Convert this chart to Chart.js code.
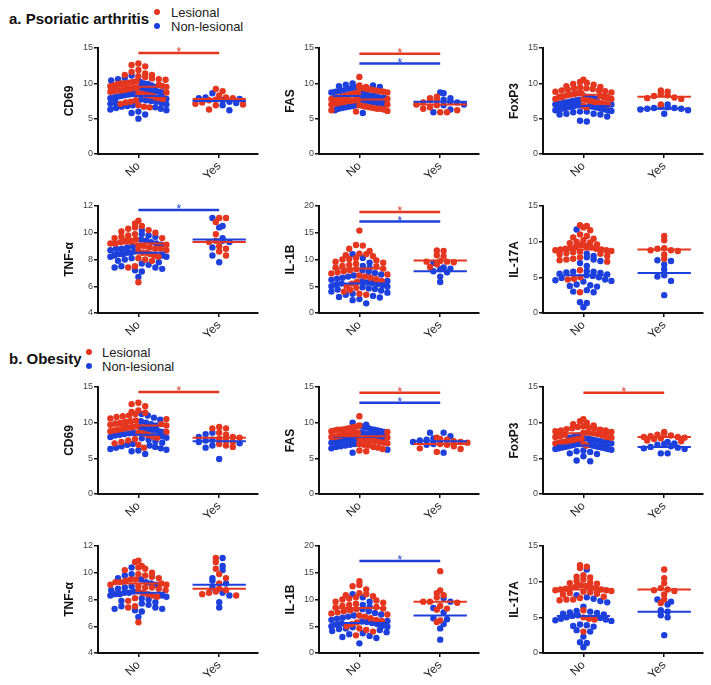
<!DOCTYPE html>
<html>
<head>
<meta charset="utf-8">
<script src="https://cdn.jsdelivr.net/npm/chart.js@4.4.1/dist/chart.umd.min.js"></script>
<style>
  html, body { margin:0; padding:0; background:#fff; }
  body { position:relative; width:711px; height:685px; overflow:hidden; font-family:'Liberation Sans', Arial, sans-serif; }
  .title { position:absolute; font-weight:bold; font-size:15px; line-height:15px; color:#111; white-space:nowrap; }
  .leg { position:absolute; font-size:13px; line-height:13px; color:#222; white-space:nowrap; }
  .dot { position:absolute; width:6px; height:6px; border-radius:50%; }
  canvas { position:absolute; }
</style>
</head>
<body>
<script>
// ---------------- DATA ----------------
const categories = ['No', 'Yes'];
const groupNames = ['Lesional', 'Non-lesional'];
const sectionTitles = ['a. Psoriatic arthritis', 'b. Obesity'];
const markers = ['CD69', 'FAS', 'FoxP3', 'TNF-\u03B1', 'IL-1B', 'IL-17A'];
const yAxisMin = [0, 0, 0, 4, 0, 0];
const yAxisMax = [15, 15, 15, 12, 20, 15];
const yAxisStep = [5, 5, 5, 2, 5, 5];

// a. Psoriatic arthritis
const psa_CD69_les_no = [12.8,12.6,12.4,11.9,11.6,11.4,11.2,11.2,11.0,10.9,10.7,10.6,10.5,10.3,10.2,10.1,10.0,10.0,9.9,9.8,9.7,9.6,9.6,9.5,9.4,9.3,9.2,9.1,9.0,9.0,8.9,8.8,8.7,8.6,8.5,8.4,8.3,8.2,8.0,7.9,7.8,7.6,7.4,7.3,7.1,6.9,6.7,6.6];
const psa_CD69_non_no = [11.1,10.8,10.6,10.4,10.2,10.0,9.9,9.7,9.5,9.4,9.2,9.1,9.0,8.9,8.8,8.7,8.6,8.5,8.4,8.3,8.2,8.1,8.0,7.9,7.8,7.7,7.6,7.5,7.4,7.3,7.2,7.1,7.0,6.9,6.8,6.7,6.6,6.5,6.4,6.3,6.2,6.0,5.8,5.6,5.0];
const psa_CD69_les_yes = [9.2,8.9,8.3,8.0,7.9,7.7,7.6,7.3,7.1,7.0,6.9,6.3];
const psa_CD69_non_yes = [8.6,8.0,7.9,7.8,7.6,7.4,7.2,6.9,6.2];
const psa_CD69_les_mean = [9.5, 7.8];
const psa_CD69_non_mean = [8.2, 7.5];
const psa_CD69_sig = [14.3, null];

const psa_FAS_les_no = [10.9,9.7,9.5,9.4,9.3,9.2,9.1,9.0,8.9,8.8,8.7,8.6,8.6,8.5,8.4,8.3,8.2,8.1,8.0,8.0,7.9,7.8,7.8,7.7,7.6,7.5,7.5,7.4,7.3,7.2,7.1,7.0,7.0,6.9,6.8,6.7,6.6,6.5,6.4,6.4,6.3,6.2,6.1,6.0];
const psa_FAS_non_no = [10.0,9.8,9.7,9.6,9.5,9.4,9.3,9.2,9.0,8.9,8.8,8.7,8.6,8.5,8.4,8.3,8.2,8.2,8.1,8.0,7.9,7.8,7.7,7.6,7.5,7.4,7.3,7.2,7.1,7.0,6.9,6.8,6.7,6.6,6.5,6.4,6.2,5.8];
const psa_FAS_les_yes = [8.1,7.9,7.7,7.6,7.3,7.0,6.9,6.6,6.4,6.2,5.9,5.9];
const psa_FAS_non_yes = [8.7,8.6,7.9,7.7,7.4,7.3,7.0,6.9,6.3,5.9];
const psa_FAS_les_mean = [7.7, 7.0];
const psa_FAS_non_mean = [8.2, 7.4];
const psa_FAS_sig = [14.2, 12.8];

const psa_FoxP3_les_no = [10.5,10.2,10.1,9.9,9.8,9.6,9.5,9.4,9.3,9.3,9.2,9.1,9.0,9.0,8.9,8.8,8.7,8.6,8.6,8.5,8.4,8.3,8.2,8.1,8.0,8.0,7.9,7.8,7.8,7.7,7.6,7.5,7.4,7.3,7.2,7.1,7.0,6.8,6.6];
const psa_FoxP3_non_no = [8.1,8.0,7.9,7.8,7.7,7.6,7.5,7.4,7.3,7.2,7.1,7.0,7.0,6.9,6.9,6.8,6.8,6.7,6.7,6.6,6.6,6.5,6.5,6.4,6.4,6.3,6.3,6.2,6.2,6.1,6.0,6.0,5.9,5.7,5.7,5.6,5.6,5.3,4.7,4.6];
const psa_FoxP3_les_yes = [9.0,8.8,8.5,8.3,8.2,8.0,7.9,7.8,7.0];
const psa_FoxP3_non_yes = [7.0,6.7,6.6,6.5,6.5,6.4,6.4,6.3,6.2,5.7];
const psa_FoxP3_les_mean = [8.4, 8.1];
const psa_FoxP3_non_mean = [6.8, 6.4];
const psa_FoxP3_sig = [null, null];

const psa_TNF_les_no = [10.9,10.7,10.5,10.4,10.3,10.2,10.1,10.0,9.9,9.8,9.7,9.6,9.6,9.5,9.4,9.4,9.3,9.2,9.2,9.1,9.0,9.0,8.9,8.8,8.8,8.7,8.6,8.5,8.5,8.4,8.3,8.2,8.1,8.0,7.9,7.5,7.4,6.3];
const psa_TNF_non_no = [10.2,9.9,9.8,9.7,9.5,9.4,9.3,9.2,9.1,9.0,8.9,8.8,8.8,8.7,8.6,8.5,8.5,8.4,8.4,8.3,8.3,8.2,8.2,8.1,8.0,7.9,7.8,7.7,7.6,7.5,7.4,7.4,7.3,7.2,7.1,6.7];
const psa_TNF_les_yes = [11.1,11.1,10.8,9.9,9.4,9.3,9.0,8.8,8.6,8.3];
const psa_TNF_non_yes = [11.1,10.5,10.4,9.6,9.4,9.3,8.9,8.3,7.8];
const psa_TNF_les_mean = [9.2, 9.3];
const psa_TNF_non_mean = [8.5, 9.5];
const psa_TNF_sig = [null, 11.7];

const psa_IL1B_les_no = [15.4,12.7,12.6,12.0,11.6,11.1,11.0,10.8,10.6,10.3,10.1,10.0,9.8,9.6,9.4,9.2,9.0,8.8,8.7,8.5,8.3,8.2,8.0,7.8,7.6,7.4,7.2,7.0,6.8,6.6,6.3,6.0,5.8,5.5,5.0,4.7,4.3,4.0,3.6,3.4];
const psa_IL1B_non_no = [11.0,10.3,9.4,8.8,8.4,8.0,7.7,7.5,7.2,7.0,6.8,6.6,6.4,6.2,6.0,5.9,5.7,5.6,5.5,5.4,5.3,5.2,5.0,4.9,4.8,4.6,4.5,4.4,4.2,4.0,3.8,3.6,3.4,3.2,3.0,2.9,2.6,2.4,1.8];
const psa_IL1B_les_yes = [11.7,11.6,10.8,10.6,9.7,9.6,9.6,9.5,9.1,8.6];
const psa_IL1B_non_yes = [9.4,8.5,8.3,8.2,7.8,7.6,6.8,5.8];
const psa_IL1B_les_mean = [8.3, 9.8];
const psa_IL1B_non_mean = [5.5, 7.8];
const psa_IL1B_sig = [18.9, 17.1];

const psa_IL17A_les_no = [12.3,12.2,12.0,11.6,11.0,10.8,10.6,10.4,10.2,10.0,9.9,9.8,9.6,9.5,9.4,9.3,9.2,9.1,9.0,9.0,8.9,8.9,8.8,8.8,8.7,8.6,8.5,8.4,8.3,8.2,8.0,7.8,7.6,7.5,7.4,7.2,6.0,5.0,4.8,4.7,2.9];
const psa_IL17A_non_no = [11.7,8.3,8.0,7.8,7.5,7.3,7.0,6.6,5.9,5.8,5.8,5.7,5.6,5.5,5.4,5.3,5.2,5.0,4.9,4.7,4.6,4.5,4.4,4.0,3.9,3.8,3.7,3.2,3.0,2.9,1.5,1.4,0.8];
const psa_IL17A_les_yes = [10.8,10.2,9.1,9.0,8.8,8.8,8.7,8.2,7.6];
const psa_IL17A_non_yes = [7.4,7.3,6.8,6.1,5.3,5.1,4.5,2.5];
const psa_IL17A_les_mean = [8.9, 8.9];
const psa_IL17A_non_mean = [5.3, 5.6];
const psa_IL17A_sig = [null, null];

// b. Obesity
const ob_CD69_les_no = [12.8,12.6,12.3,11.7,11.5,11.4,11.2,11.0,10.9,10.8,10.6,10.5,10.3,10.2,10.1,10.0,9.9,9.8,9.7,9.6,9.5,9.4,9.3,9.2,9.1,9.0,8.9,8.8,8.7,8.6,8.5,8.3,8.1,7.9,7.7,7.5,7.3,7.1,6.9,6.5];
const ob_CD69_non_no = [11.2,11.0,10.7,10.4,10.2,10.0,9.8,9.6,9.4,9.2,9.1,9.0,8.9,8.8,8.7,8.6,8.5,8.4,8.3,8.2,8.1,8.0,7.9,7.8,7.6,7.4,7.2,7.0,6.9,6.8,6.7,6.6,6.5,6.4,6.3,6.2,6.1,6.0,5.6];
const ob_CD69_les_yes = [9.4,9.2,9.2,8.6,8.3,8.0,7.9,7.7,7.5,7.3,7.0,6.8,6.6];
const ob_CD69_non_yes = [8.6,8.4,8.0,7.6,7.5,7.3,7.1,6.8,6.5,4.9];
const ob_CD69_les_mean = [9.6, 7.9];
const ob_CD69_non_mean = [8.3, 7.4];
const ob_CD69_sig = [14.3, null];

const ob_FAS_les_no = [10.9,9.6,9.5,9.4,9.3,9.2,9.1,9.0,9.0,8.9,8.8,8.7,8.6,8.6,8.5,8.4,8.3,8.2,8.1,8.0,8.0,7.9,7.8,7.7,7.6,7.5,7.4,7.3,7.2,7.1,7.0,6.9,6.8,6.6,6.5,6.3,6.1,6.0];
const ob_FAS_non_no = [10.0,9.7,9.5,9.4,9.3,9.1,9.0,8.9,8.8,8.7,8.6,8.5,8.4,8.3,8.2,8.1,8.0,7.9,7.8,7.7,7.6,7.5,7.4,7.3,7.2,7.0,6.9,6.8,6.7,6.6,6.4,6.2,5.8];
const ob_FAS_les_yes = [7.9,7.7,7.6,7.4,7.3,7.2,7.0,6.9,6.7,6.4,6.3,5.9];
const ob_FAS_non_yes = [8.6,8.6,8.1,7.8,7.6,7.5,7.3,7.0,6.9,5.8];
const ob_FAS_les_mean = [8.1, 7.0];
const ob_FAS_non_mean = [8.0, 7.4];
const ob_FAS_sig = [14.2, 12.8];

const ob_FoxP3_les_no = [10.5,10.2,10.0,9.8,9.6,9.5,9.4,9.3,9.2,9.2,9.1,9.0,8.9,8.9,8.8,8.7,8.6,8.6,8.5,8.4,8.3,8.2,8.1,8.0,8.0,7.9,7.8,7.7,7.6,7.5,7.4,7.3,7.2,7.1,7.0,6.8];
const ob_FoxP3_non_no = [8.2,8.0,7.9,7.8,7.7,7.6,7.5,7.4,7.3,7.2,7.1,7.0,7.0,6.9,6.9,6.8,6.8,6.7,6.7,6.6,6.6,6.5,6.5,6.4,6.4,6.3,6.3,6.2,6.1,6.0,5.9,5.7,5.6,5.3,4.7,4.6];
const ob_FoxP3_les_yes = [8.7,8.5,8.3,8.2,8.1,8.0,8.0,7.9,7.8,7.7,7.5,7.4];
const ob_FoxP3_non_yes = [7.3,7.1,7.0,6.9,6.7,6.6,6.5,6.4,6.3,5.7,5.7];
const ob_FoxP3_les_mean = [8.5, 8.0];
const ob_FoxP3_non_mean = [6.8, 6.6];
const ob_FoxP3_sig = [14.2, null];

const ob_TNF_les_no = [10.9,10.8,10.5,10.4,10.3,10.2,10.0,9.9,9.8,9.7,9.6,9.5,9.5,9.4,9.3,9.3,9.2,9.1,9.1,9.0,8.9,8.9,8.8,8.7,8.6,8.5,8.4,8.3,8.2,8.1,7.9,7.5,7.4,6.3];
const ob_TNF_non_no = [10.4,9.9,9.8,9.6,9.5,9.3,9.2,9.1,9.0,8.9,8.8,8.7,8.6,8.5,8.5,8.4,8.4,8.3,8.3,8.2,8.1,8.0,7.9,7.8,7.7,7.6,7.5,7.4,7.3,7.3,7.2,7.1,6.7];
const ob_TNF_les_yes = [11.1,10.8,10.3,9.9,9.6,9.2,8.8,8.7,8.6,8.5,8.4,8.3];
const ob_TNF_non_yes = [11.1,10.5,10.2,9.6,9.4,9.2,8.9,8.5,8.3,7.8,7.4];
const ob_TNF_les_mean = [9.2, 8.8];
const ob_TNF_non_mean = [8.5, 9.1];
const ob_TNF_sig = [null, null];

const ob_IL1B_les_no = [13.4,12.7,12.5,11.9,11.2,11.0,10.8,10.6,10.4,10.2,10.0,9.8,9.6,9.4,9.2,9.0,8.8,8.6,8.5,8.3,8.2,8.0,7.8,7.6,7.4,7.2,7.0,6.8,6.5,6.2,6.0,5.7,5.4,5.0,4.6,4.3,4.0,3.3];
const ob_IL1B_non_no = [11.0,10.4,9.6,9.0,8.6,8.2,7.8,7.5,7.2,7.0,6.8,6.6,6.4,6.2,6.0,5.9,5.8,5.6,5.5,5.4,5.3,5.1,5.0,4.9,4.8,4.6,4.5,4.3,4.1,3.9,3.7,3.5,3.2,3.0,2.8,1.8];
const ob_IL1B_les_yes = [15.3,11.7,11.2,10.8,10.4,9.6,9.6,9.4,8.8,8.3,8.1,6.1,5.8];
const ob_IL1B_non_yes = [10.3,9.6,8.4,7.6,6.5,6.3,5.4,4.6,2.5];
const ob_IL1B_les_mean = [8.4, 9.6];
const ob_IL1B_non_mean = [5.6, 7.0];
const ob_IL1B_sig = [null, 17.2];

const ob_IL17A_les_no = [12.3,12.1,11.9,10.9,10.7,10.6,10.3,10.1,9.9,9.8,9.7,9.5,9.4,9.3,9.2,9.1,9.0,9.0,8.9,8.9,8.8,8.8,8.7,8.6,8.5,8.4,8.3,8.2,7.9,7.7,7.5,7.5,7.4,6.0,5.0,4.8,4.7,3.0];
const ob_IL17A_non_no = [11.7,8.1,7.8,7.6,7.3,7.1,6.5,5.9,5.8,5.7,5.6,5.5,5.4,5.3,5.2,5.0,4.9,4.8,4.7,4.6,4.5,4.0,3.9,3.8,3.7,3.2,3.0,2.3,1.5,1.4,0.8];
const ob_IL17A_les_yes = [11.7,10.5,9.8,9.1,8.9,8.8,8.7,8.2,7.5,7.0];
const ob_IL17A_non_yes = [7.5,7.2,6.8,6.0,5.8,5.3,5.0,2.5];
const ob_IL17A_les_mean = [8.9, 8.9];
const ob_IL17A_non_mean = [5.2, 5.8];
const ob_IL17A_sig = [null, null];

// ---------------- LAYOUT / STYLE ----------------
const RED = '#e5361f';
const BLUE = '#1d40dd';
const COLORS = [RED, BLUE];
const FONT = "'Liberation Sans', Arial, sans-serif";
const colAxisX = [98, 319, 543];
const rowTop = [48, 206, 387, 546];
const rowBottom = [154, 313, 494, 653];
const LEFT_W = 60, PLOT_W = 160, RIGHT_PAD = 5, TOP_PAD = 15, X_AXIS_H = 45;
const DOT_R = 3.2, DOT_GAP = 6.8, ROW_H = 6, MAX_HALF = 28, MEAN_HALF = 0.33;

Chart.defaults.font.family = FONT;

const panels = [
  {row:0,col:0,m:0,les:[psa_CD69_les_no,psa_CD69_les_yes],non:[psa_CD69_non_no,psa_CD69_non_yes],lm:psa_CD69_les_mean,nm:psa_CD69_non_mean,sig:psa_CD69_sig},
  {row:0,col:1,m:1,les:[psa_FAS_les_no,psa_FAS_les_yes],non:[psa_FAS_non_no,psa_FAS_non_yes],lm:psa_FAS_les_mean,nm:psa_FAS_non_mean,sig:psa_FAS_sig},
  {row:0,col:2,m:2,les:[psa_FoxP3_les_no,psa_FoxP3_les_yes],non:[psa_FoxP3_non_no,psa_FoxP3_non_yes],lm:psa_FoxP3_les_mean,nm:psa_FoxP3_non_mean,sig:psa_FoxP3_sig},
  {row:1,col:0,m:3,les:[psa_TNF_les_no,psa_TNF_les_yes],non:[psa_TNF_non_no,psa_TNF_non_yes],lm:psa_TNF_les_mean,nm:psa_TNF_non_mean,sig:psa_TNF_sig},
  {row:1,col:1,m:4,les:[psa_IL1B_les_no,psa_IL1B_les_yes],non:[psa_IL1B_non_no,psa_IL1B_non_yes],lm:psa_IL1B_les_mean,nm:psa_IL1B_non_mean,sig:psa_IL1B_sig},
  {row:1,col:2,m:5,les:[psa_IL17A_les_no,psa_IL17A_les_yes],non:[psa_IL17A_non_no,psa_IL17A_non_yes],lm:psa_IL17A_les_mean,nm:psa_IL17A_non_mean,sig:psa_IL17A_sig},
  {row:2,col:0,m:0,les:[ob_CD69_les_no,ob_CD69_les_yes],non:[ob_CD69_non_no,ob_CD69_non_yes],lm:ob_CD69_les_mean,nm:ob_CD69_non_mean,sig:ob_CD69_sig},
  {row:2,col:1,m:1,les:[ob_FAS_les_no,ob_FAS_les_yes],non:[ob_FAS_non_no,ob_FAS_non_yes],lm:ob_FAS_les_mean,nm:ob_FAS_non_mean,sig:ob_FAS_sig},
  {row:2,col:2,m:2,les:[ob_FoxP3_les_no,ob_FoxP3_les_yes],non:[ob_FoxP3_non_no,ob_FoxP3_non_yes],lm:ob_FoxP3_les_mean,nm:ob_FoxP3_non_mean,sig:ob_FoxP3_sig},
  {row:3,col:0,m:3,les:[ob_TNF_les_no,ob_TNF_les_yes],non:[ob_TNF_non_no,ob_TNF_non_yes],lm:ob_TNF_les_mean,nm:ob_TNF_non_mean,sig:ob_TNF_sig},
  {row:3,col:1,m:4,les:[ob_IL1B_les_no,ob_IL1B_les_yes],non:[ob_IL1B_non_no,ob_IL1B_non_yes],lm:ob_IL1B_les_mean,nm:ob_IL1B_non_mean,sig:ob_IL1B_sig},
  {row:3,col:2,m:5,les:[ob_IL17A_les_no,ob_IL17A_les_yes],non:[ob_IL17A_non_no,ob_IL17A_non_yes],lm:ob_IL17A_les_mean,nm:ob_IL17A_non_mean,sig:ob_IL17A_sig}
];

// ---------------- HEADERS & LEGENDS ----------------
function addText(cls, txt, left, top) {
  const d = document.createElement('div'); d.className = cls; d.textContent = txt;
  d.style.left = left + 'px'; d.style.top = top + 'px'; document.body.appendChild(d);
}
function addDot(color, cx, cy) {
  const d = document.createElement('div'); d.className = 'dot'; d.style.background = color;
  d.style.left = (cx - 3) + 'px'; d.style.top = (cy - 3) + 'px'; document.body.appendChild(d);
}
const headerSpec = [
  {tx: 9, ty: 11, dotX: 157, legX: 171, y1: 12, y2: 26},
  {tx: 9, ty: 351, dotX: 89, legX: 102, y1: 352, y2: 366}
];
headerSpec.forEach((h, i) => {
  addText('title', sectionTitles[i], h.tx, h.ty);
  addDot(RED, h.dotX, h.y1); addDot(BLUE, h.dotX, h.y2);
  addText('leg', groupNames[0], h.legX, h.y1 - 6.5);
  addText('leg', groupNames[1], h.legX, h.y2 - 6.5);
});

// ---------------- PLUGINS ----------------
const starPlugin = {
  id: 'sigStars',
  afterDatasetsDraw(chart) {
    const ctx = chart.ctx;
    chart.data.datasets.forEach((d, i) => {
      if (!d.sigStar) return;
      const meta = chart.getDatasetMeta(i);
      const a = meta.data[0], b = meta.data[1];
      ctx.save();
      ctx.fillStyle = d.borderColor;
      ctx.font = '12px ' + FONT;
      ctx.textAlign = 'center';
      ctx.textBaseline = 'alphabetic';
      ctx.fillText('*', (a.x + b.x) / 2, a.y + 3);
      ctx.restore();
    });
  }
};

// column-scatter layout: both series of a column share rows; colours alternate, spread from centre out
function columnScatter(chart) {
  const xs = chart.scales.x, ys = chart.scales.y;
  [1, 2].forEach(cat => {
    const cx = xs.getPixelForValue(cat);
    const rows = new Map();
    chart.data.datasets.forEach((ds, di) => {
      if (ds.swarmCat !== cat) return;
      ds.data.forEach(p => {
        const b = Math.round((ys.getPixelForValue(p.y) - ys.top) / ROW_H);
        if (!rows.has(b)) rows.set(b, [[], []]);
        rows.get(b)[ds.series].push(p);
      });
    });
    rows.forEach(([reds, blues]) => {
      const order = [];
      const nMax = Math.max(reds.length, blues.length);
      for (let i = 0; i < nMax; i++) {
        if (i < reds.length) order.push(reds[i]);
        if (i < blues.length) order.push(blues[i]);
      }
      const n = order.length;
      const s = n > 1 ? Math.min(DOT_GAP, 2 * MAX_HALF / (n - 1)) : 0;
      const slots = [];
      for (let i = 0; i < n; i++) slots.push((i - (n - 1) / 2) * s);
      slots.sort((u, v) => Math.abs(u) - Math.abs(v) || u - v);
      order.forEach((p, i) => { p.x = xs.getValueForPixel(cx + slots[i]); });
    });
  });
}

// ---------------- CHARTS ----------------
panels.forEach(p => {
  const plotH = rowBottom[p.row] - rowTop[p.row];
  const W = LEFT_W + PLOT_W + RIGHT_PAD, H = TOP_PAD + plotH + X_AXIS_H;
  const cv = document.createElement('canvas');
  cv.width = W; cv.height = H;
  cv.style.left = (colAxisX[p.col] - LEFT_W) + 'px';
  cv.style.top = (rowTop[p.row] - TOP_PAD) + 'px';
  cv.style.width = W + 'px'; cv.style.height = H + 'px';
  document.body.appendChild(cv);

  const datasets = [];
  p.sig.forEach((v, i) => {
    if (v === null) return;
    datasets.push({type: 'line', data: [{x: 1, y: v}, {x: 2, y: v}], borderColor: COLORS[i], borderWidth: 2.5,
      pointRadius: 0, clip: false, sigStar: true});
  });
  [p.lm, p.nm].forEach((means, i) => means.forEach((v, c) => {
    datasets.push({type: 'line', data: [{x: c + 1 - MEAN_HALF, y: v}, {x: c + 1 + MEAN_HALF, y: v}],
      borderColor: COLORS[i], borderWidth: 2, pointRadius: 0, clip: false});
  }));
  [p.les, p.non].forEach((groups, i) => groups.forEach((vals, c) => {
    datasets.push({type: 'scatter', data: vals.map(v => ({x: c + 1, y: v})), backgroundColor: COLORS[i],
      borderWidth: 0, pointRadius: DOT_R, pointHoverRadius: DOT_R, clip: false, swarmCat: c + 1, series: i});
  }));

  const chart = new Chart(cv, {
    type: 'scatter',
    data: {datasets},
    plugins: [starPlugin],
    options: {
      responsive: false, animation: false, events: [],
      layout: {padding: {top: TOP_PAD, right: RIGHT_PAD, left: 0, bottom: 0}},
      plugins: {legend: {display: false}, tooltip: {enabled: false}},
      scales: {
        x: {
          type: 'linear', min: 0.5, max: 2.48,
          afterBuildTicks: s => { s.ticks = [{value: 1}, {value: 2}]; },
          afterFit: s => { s.height = X_AXIS_H; },
          ticks: {callback: v => categories[v - 1], minRotation: 45, maxRotation: 45, autoSkip: false,
            font: {size: 12}, color: '#222', padding: 1},
          grid: {drawOnChartArea: false, drawTicks: true, tickLength: 4, color: '#111', lineWidth: 1.5},
          border: {color: '#111', width: 2}
        },
        y: {
          min: yAxisMin[p.m], max: yAxisMax[p.m],
          afterFit: s => { s.width = LEFT_W; },
          ticks: {stepSize: yAxisStep[p.m], font: {size: 9}, color: '#444', padding: 1},
          grid: {drawOnChartArea: false, drawTicks: true, tickLength: 4, color: '#111', lineWidth: 1.5},
          border: {color: '#111', width: 2},
          title: {display: true, text: markers[p.m], font: {size: 12, weight: 'bold'}, color: '#111',
            padding: {top: 24, bottom: 0}}
        }
      }
    }
  });
  columnScatter(chart);
  chart.update('none');
});
</script>
</body>
</html>
